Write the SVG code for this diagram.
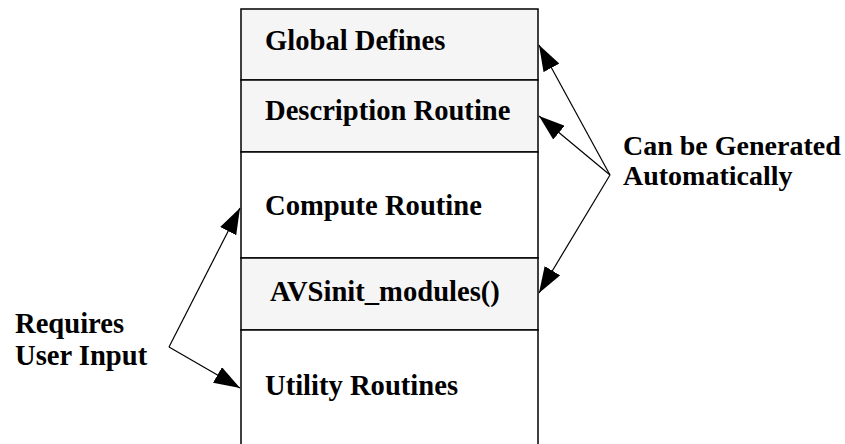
<svg xmlns="http://www.w3.org/2000/svg" width="845" height="444" viewBox="0 0 845 444">
<style>
.t{font-family:"Liberation Serif","Times New Roman",serif;font-weight:bold;font-size:28.6px;fill:#000}
.s{font-size:28px}
.gray{fill:#f5f5f5;stroke:#000;stroke-width:1.5}
.white{fill:#fff;stroke:#000;stroke-width:1.5}
.c{fill:none;stroke:#000;stroke-width:1.2}
</style>
<defs>
<marker id="ah" viewBox="0 0 26 18" refX="26" refY="9" markerWidth="26" markerHeight="18" orient="auto" markerUnits="userSpaceOnUse">
<path d="M0,0 L26,9 L0,18 z" fill="#000"/>
</marker>
</defs>
<rect width="845" height="444" fill="#fff"/>
<g id="global-defines"><rect class="gray" x="241" y="9" width="297" height="71"/><text class="t" x="265" y="50">Global Defines</text></g>
<g id="description-routine"><rect class="gray" x="241" y="80" width="297" height="72"/><text class="t" x="265" y="120">Description Routine</text></g>
<g id="compute-routine"><rect class="white" x="241" y="152" width="297" height="106"/><text class="t" x="265" y="215">Compute Routine</text></g>
<g id="avsinit"><rect class="gray" x="241" y="258" width="297" height="72"/><text class="t" x="270" y="301">AVSinit_modules()</text></g>
<g id="utility-routines"><rect class="white" x="241" y="330" width="297" height="120"/><text class="t" x="265" y="395">Utility Routines</text></g>
<g id="label-auto"><text class="t s" x="623" y="155">Can be Generated</text><text class="t s" x="623" y="185">Automatically</text></g>
<g id="label-user"><text class="t" x="15" y="333">Requires</text><text class="t" x="15" y="365">User Input</text></g>
<g id="connectors">
<path class="c" d="M610,175 L539,45" marker-end="url(#ah)"/>
<path class="c" d="M610,175 L539,116" marker-end="url(#ah)"/>
<path class="c" d="M610,175 L539,293" marker-end="url(#ah)"/>
<path class="c" d="M169,347 L240,208" marker-end="url(#ah)"/>
<path class="c" d="M169,347 L240,388" marker-end="url(#ah)"/>
</g>
</svg>
